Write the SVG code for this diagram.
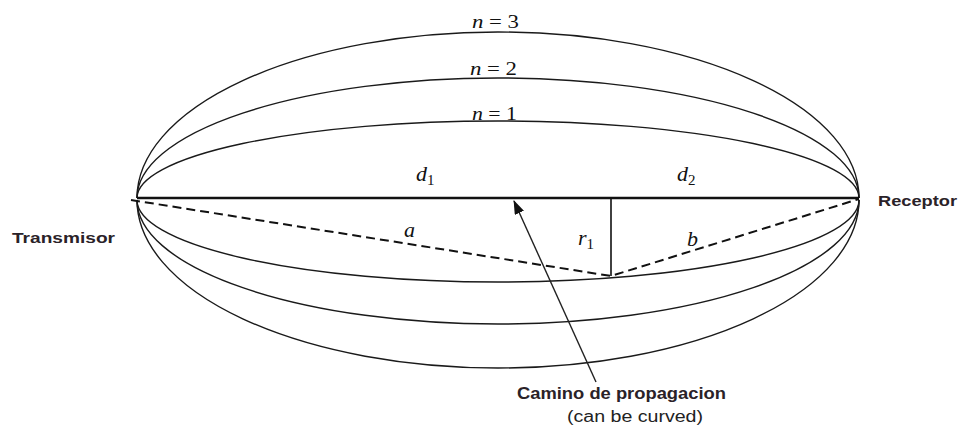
<svg xmlns="http://www.w3.org/2000/svg" width="964" height="431" viewBox="0 0 964 431">
<style>
.zone{fill:none;stroke:#1a1a1a;stroke-width:1.4}
.ser{font-family:"Liberation Serif","Times New Roman",serif;font-style:italic;fill:#111}
.up{font-style:normal}
.lbl{font-family:"Liberation Sans",Arial,sans-serif;font-weight:bold;fill:#2a2228}
.note{font-family:"Liberation Sans",Arial,sans-serif;fill:#222}
</style>
<defs>
<marker id="ah" markerWidth="14" markerHeight="10" refX="13" refY="5" orient="auto" markerUnits="userSpaceOnUse">
<path d="M0,0 L14,5 L0,10 z" fill="#111"/>
</marker>
</defs>
<rect width="964" height="431" fill="#fff"/>
<g id="zones">
<path class="zone" d="M137,198 A361,77 0 0 1 859,198"/>
<path class="zone" d="M137,198 A361,120 0 0 1 859,198"/>
<path class="zone" d="M137,198 A361,166 0 0 1 859,198"/>
<path class="zone" d="M137,200 A361,82 0 0 0 859,200"/>
<path class="zone" d="M137,200 A361,124 0 0 0 859,200"/>
<path class="zone" d="M137,200 A361,168 0 0 0 859,200"/>
</g>
<g id="connectors">
<line x1="137" y1="198" x2="859" y2="198" stroke="#111" stroke-width="2.4"/>
<line x1="611" y1="198" x2="611" y2="276" stroke="#111" stroke-width="1.6"/>
<polyline points="131,200 611,276 859,199" fill="none" stroke="#111" stroke-width="2" stroke-dasharray="9,5"/>
<line x1="596" y1="382" x2="514" y2="201" stroke="#222" stroke-width="1.4" marker-end="url(#ah)"/>
</g>
<g id="zone-labels">
<text class="ser" x="472" y="28" font-size="18" textLength="47" lengthAdjust="spacingAndGlyphs">n<tspan class="up"> = 3</tspan></text>
<text class="ser" x="470" y="75" font-size="18" textLength="47" lengthAdjust="spacingAndGlyphs">n<tspan class="up"> = 2</tspan></text>
<text class="ser" x="472" y="120" font-size="18" textLength="45" lengthAdjust="spacingAndGlyphs">n<tspan class="up"> = 1</tspan></text>
</g>
<g id="geometry-labels">
<text class="ser" x="416" y="181" font-size="22">d<tspan font-size="15" font-style="normal" dy="4">1</tspan></text>
<text class="ser" x="677" y="181" font-size="22">d<tspan font-size="15" font-style="normal" dy="4">2</tspan></text>
<text class="ser" x="404" y="237" font-size="22">a</text>
<text class="ser" x="578" y="245" font-size="22">r<tspan font-size="15" font-style="normal" dy="4">1</tspan></text>
<text class="ser" x="687" y="246" font-size="22">b</text>
</g>
<g id="transmisor"><text class="lbl" x="12" y="243" font-size="15" textLength="103" lengthAdjust="spacingAndGlyphs">Transmisor</text></g>
<g id="receptor"><text class="lbl" x="878" y="206" font-size="15" textLength="79" lengthAdjust="spacingAndGlyphs">Receptor</text></g>
<g id="camino">
<text class="lbl" x="517" y="399" font-size="16" textLength="209" lengthAdjust="spacingAndGlyphs">Camino de propagacion</text>
<text class="note" x="567" y="422" font-size="16" textLength="136" lengthAdjust="spacingAndGlyphs">(can be curved)</text>
</g>
</svg>
